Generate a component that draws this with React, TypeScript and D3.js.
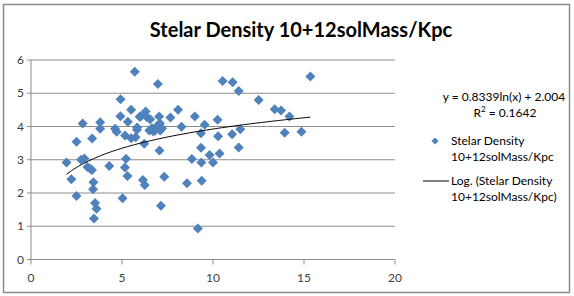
import * as d3 from "d3";

// Scatter values (x, y pairs)
const densityX = [
  1.95, 2.22, 2.5, 2.5, 2.84, 2.75, 2.93, 3.1, 3.25, 3.35, 3.36, 3.43, 3.41, 3.52, 3.6, 3.46,
  3.8, 3.8, 4.3, 4.62, 4.71, 4.92, 4.91, 5.03, 5.17, 5.22, 5.16, 5.3, 5.32, 5.5, 5.75, 5.5,
  5.7, 5.82, 5.83, 6.04, 6.3, 6.37, 6.22, 6.5, 6.65, 6.82, 7.04, 7.08, 7.1, 6.97, 7.06, 6.15,
  6.25, 7.32, 7.14, 7.66, 8.08, 8.27, 8.57, 8.84, 9.0, 9.54, 9.34, 9.34, 9.36, 9.38, 9.17,
  9.81, 10.0, 10.36, 10.25, 10.28, 10.53, 11.08, 11.41, 11.05, 11.5, 11.41, 12.51, 13.39,
  13.74, 14.2, 13.94, 14.86, 15.35, 6.72, 7.2, 6.9, 5.97, 6.55,
];
const densityY = [
  2.92, 2.41, 1.91, 3.54, 4.09, 3.0, 3.04, 2.78, 2.73, 2.69, 3.64, 2.32, 2.11, 1.7, 1.53, 1.23,
  4.13, 3.93, 2.81, 3.93, 3.84, 4.82, 4.31, 1.84, 3.73, 3.03, 2.77, 2.51, 4.14, 3.65, 3.68, 4.5,
  5.65, 3.9, 3.97, 4.31, 4.45, 4.28, 3.48, 3.88, 3.95, 3.88, 4.3, 4.1, 3.88, 5.28, 3.28, 2.39,
  2.24, 2.49, 1.62, 4.27, 4.5, 3.99, 2.29, 3.02, 4.3, 4.05, 3.8, 3.36, 2.92, 2.37, 0.93,
  3.14, 2.92, 3.19, 4.2, 3.71, 5.37, 5.33, 5.07, 3.77, 3.92, 3.37, 4.8, 4.52,
  4.48, 4.3, 3.81, 3.84, 5.5, 3.85, 3.95, 4.0, 4.29, 4.22,
];

const xTicks = [0, 5, 10, 15, 20];
const yTicks = [0, 1, 2, 3, 4, 5, 6];

const title = "Stelar Density 10+12solMass/Kpc";
const seriesLines = ["Stelar Density", "10+12solMass/Kpc"];
const trendLines = ["Log. (Stelar Density", "10+12solMass/Kpc)"];
const trendSlope = 0.8339;
const trendIntercept = 2.004;
const rSquared = "0.1642";

const W = 574;
const H = 296;
const FONT = "Lato, 'Open Sans', sans-serif";
const BLUE = "#4f81bd";

export default function App() {
  const x = d3.scaleLinear().domain([0, 20]).range([31, 395]);
  const y = d3.scaleLinear().domain([0, 6]).range([259.5, 60]);

  const pts = densityX.map((v, i) => ({ x: v, y: densityY[i] }));
  const diamond = d3.symbol().type(d3.symbolSquare).size(50)() ?? "";
  const legendDiamond = d3.symbol().type(d3.symbolSquare).size(26)() ?? "";

  // log trendline across the data's x extent, from the fitted equation
  const [x0, x1] = d3.extent(densityX) as [number, number];
  const trendPts = d3.range(0, 101).map((k) => {
    const xv = x0 + ((x1 - x0) * k) / 100;
    return [x(xv), y(trendSlope * Math.log(xv) + trendIntercept)] as [number, number];
  });
  const trendPath = d3.line()(trendPts) ?? "";

  return (
    <svg
      width={W}
      height={H}
      style={{ position: "absolute", left: 0, top: 0, background: "#fff" }}
      fontFamily={FONT}
    >
      {/* chart frame */}
      <rect x={3.5} y={4.5} width={566} height={288} fill="#fff" stroke="#8c8c8c" strokeWidth={1.5} />

      <text x={301} y={37} textAnchor="middle" fontSize={20} fontWeight={700} fill="#000">
        {title}
      </text>

      {/* gridlines */}
      {yTicks.slice(1).map((t) => (
        <line key={`g${t}`} x1={x(0)} x2={x(20)} y1={y(t)} y2={y(t)} stroke="#8c8c8c" strokeWidth={1} />
      ))}

      {/* axes */}
      <line x1={x(0)} x2={x(0)} y1={y(0)} y2={y(6)} stroke="#8c8c8c" />
      <line x1={x(0)} x2={x(20)} y1={y(0)} y2={y(0)} stroke="#8c8c8c" />
      {yTicks.map((t) => (
        <g key={`y${t}`}>
          <line x1={x(0) - 4} x2={x(0)} y1={y(t)} y2={y(t)} stroke="#8c8c8c" />
          <text x={x(0) - 7} y={y(t)} dy="0.35em" textAnchor="end" fontSize={12} fill="#404040">
            {t}
          </text>
        </g>
      ))}
      {xTicks.map((t) => (
        <g key={`x${t}`}>
          <line x1={x(t)} x2={x(t)} y1={y(0)} y2={y(0) + 5} stroke="#8c8c8c" />
          <text x={x(t)} y={y(0) + 18} dy="0.35em" textAnchor="middle" fontSize={12} fill="#404040">
            {t}
          </text>
        </g>
      ))}

      {/* points */}
      {pts.map((p, i) => (
        <path
          key={i}
          d={diamond}
          transform={`translate(${x(p.x)},${y(p.y)}) rotate(45)`}
          fill={BLUE}
        />
      ))}

      <path d={trendPath} fill="none" stroke="#000" strokeWidth={1} />

      {/* equation + legend */}
      <text x={504} y={97} dy="0.35em" textAnchor="middle" fontSize={12} fill="#000">
        y = {trendSlope}ln(x) + {trendIntercept.toFixed(3)}
      </text>
      <text x={505} y={113} dy="0.35em" textAnchor="middle" fontSize={12} fill="#000">
        R<tspan dy="-5" fontSize={8}>2</tspan>
        <tspan dy="5"> = {rSquared}</tspan>
      </text>

      <path d={legendDiamond} transform="translate(435,141) rotate(45)" fill={BLUE} />
      {seriesLines.map((s, i) => (
        <text key={s} x={451} y={141 + i * 16} dy="0.35em" fontSize={12} fill="#000">
          {s}
        </text>
      ))}
      <line x1={423} x2={449} y1={181} y2={181} stroke="#000" />
      {trendLines.map((s, i) => (
        <text key={s} x={451} y={181 + i * 16} dy="0.35em" fontSize={12} fill="#000">
          {s}
        </text>
      ))}
    </svg>
  );
}
